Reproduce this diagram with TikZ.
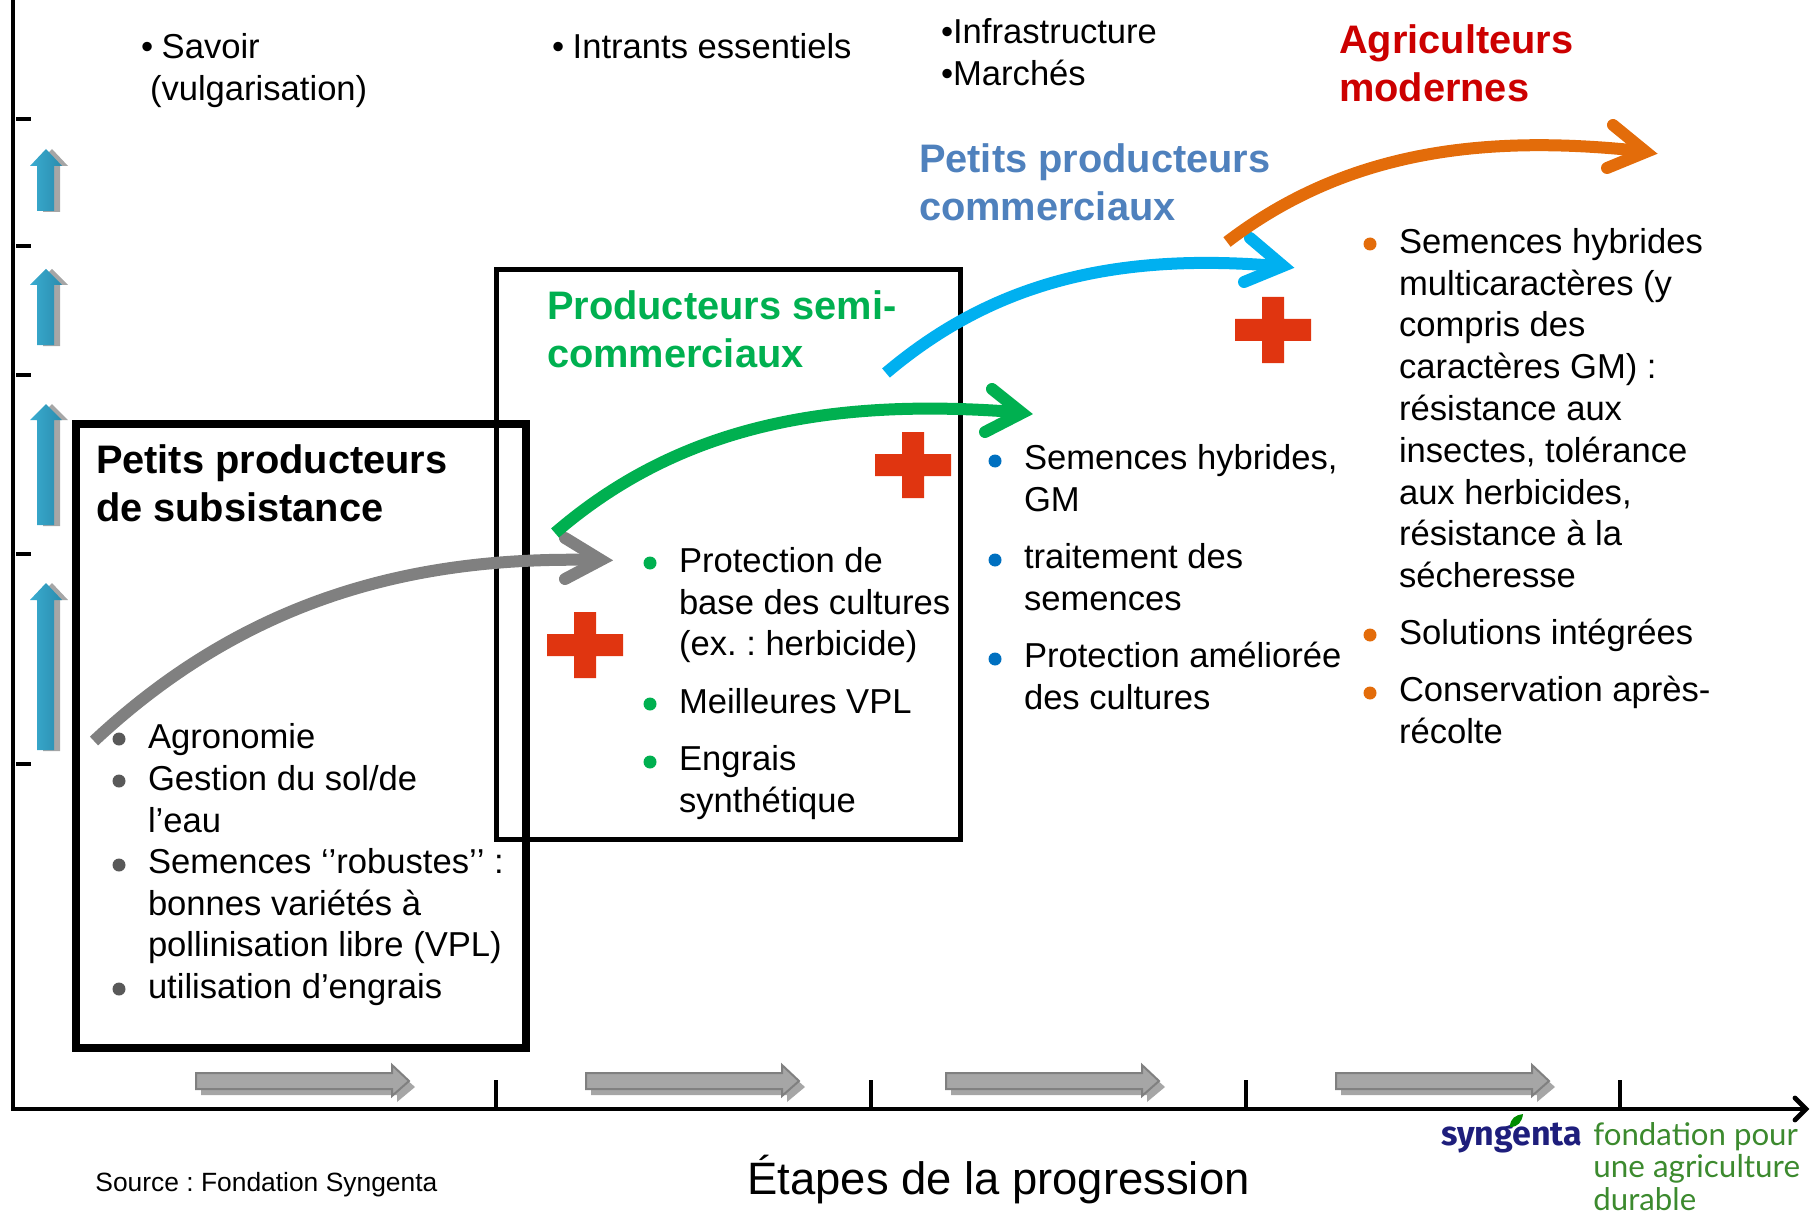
\documentclass[tikz,border=0pt]{standalone}
\usepackage{fontspec}
\setmainfont{Liberation Sans}
\newfontfamily\logofont{Fira Sans}
\newfontfamily\fondfont{Lato}
\frenchspacing
\definecolor{grayc}{HTML}{808080}
\definecolor{greenc}{HTML}{00B050}
\definecolor{bluec}{HTML}{00B0F0}
\definecolor{orangec}{HTML}{E36C0A}
\definecolor{redc}{HTML}{E03510}
\definecolor{titleblue}{HTML}{4F81BD}
\definecolor{titlered}{HTML}{CC0000}
\definecolor{dotgray}{HTML}{595959}
\definecolor{dotblue}{HTML}{0070C0}
\definecolor{shadowc}{HTML}{A6A6A6}
\definecolor{logoblue}{HTML}{1E1E7C}
\definecolor{logogreen}{HTML}{3C8A2E}
\definecolor{upleft}{HTML}{3AACD0}
\definecolor{upright}{HTML}{2A8CAE}
\tikzset{
  body/.style={anchor=north west,inner sep=0pt,outer sep=0pt,align=left,yshift=12.4pt,
    font=\fontsize{17.3}{20.9}\selectfont,execute at begin node={\strut}},
  bodyone/.style={body,yshift=1.95pt},
  head/.style={anchor=north west,inner sep=0pt,outer sep=0pt,align=left,yshift=14.2pt,
    font=\fontsize{19.9}{24.1}\selectfont\bfseries,execute at begin node={\strut}},
  dotb/.style={circle,fill=#1,draw=none,minimum size=6.5pt,inner sep=0pt},
  shaftline/.style={draw=#1,line width=6pt,line cap=butt},
  tipline/.style={draw=#1,line width=6pt,line cap=round,line join=miter,miter limit=10},
  framebox/.style={draw=black,fill=none,line join=miter,inner sep=0pt,outer sep=0pt,anchor=north west},
  axisline/.style={draw=black,line width=2.2pt},
}
\newcommand\upblue[3]{% tip y, head base y, bottom y
  \fill[shadowc] (52,#1) -- (68,#2) -- (60,#2) -- (60,#3+1) -- (43,#3+1) -- (43,#2) -- (36,#2) -- cycle;
  \shade[left color=upleft,right color=upright]
    (46,#1) -- (62,#2) -- (54,#2) -- (54,#3) -- (37,#3) -- (37,#2) -- (30,#2) -- cycle;
}
\newcommand\grayarrow[1]{% x of left end
  \begin{scope}[xshift=#1*0.5pt]
  \fill[shadowc] (5,1079) -- (201,1079) -- (201,1071) -- (219,1087) -- (201,1102) -- (201,1095) -- (5,1095) -- cycle;
  \filldraw[fill=shadowc,draw=grayc,line width=1pt] (0,1073) -- (196,1073) -- (196,1065) -- (213,1081) -- (196,1096) -- (196,1089) -- (0,1089) -- cycle;
  \end{scope}
}
\newcommand\redcross[2]{%
  \fill[redc] (#1-11,#2-33) -- (#1+11,#2-33) -- (#1+11,#2-11) -- (#1+38,#2-11) -- (#1+38,#2+11) -- (#1+11,#2+11) -- (#1+11,#2+33) -- (#1-11,#2+33) -- (#1-11,#2+11) -- (#1-38,#2+11) -- (#1-38,#2-11) -- (#1-11,#2-11) -- cycle;
}
\begin{document}
\begin{tikzpicture}[x=0.5pt,y=-0.5pt]
\useasboundingbox (0,0) rectangle (1810,1214);
\clip (0,0) rectangle (1810,1214);

% axes
\coordinate (yt) at (13,0);
\coordinate (o) at (13,1109);
\coordinate (xe) at (1806,1109);
\coordinate (xa) at (1795,1098);
\coordinate (xb) at (1795,1120);
\draw[axisline] (yt) -- (o) -- (xe);
\draw[draw=black,line width=2.4pt,line cap=round,miter limit=10] (xa) -- (xe) -- (xb);
\foreach \yy in {119,246,375,554,764} \draw[black,line width=2pt] (16,\yy) -- (31,\yy);
\foreach \xx in {496,871,1246,1620} \draw[black,line width=2pt] (\xx,1080) -- (\xx,1109);

% up arrows
\upblue{149}{166}{211}
\upblue{269}{285}{345}
\upblue{404}{420}{525}
\upblue{583}{600}{750}

% step arrows
\grayarrow{196}
\grayarrow{586}
\grayarrow{946}
\grayarrow{1336}

% boxes
\node[framebox,line width=2.5pt,minimum width=232pt,minimum height=284.5pt] (boxb) at (496,270) {};
\node[framebox,line width=4pt,minimum width=225pt,minimum height=312pt] (boxa) at (76,424) {};

% curved arrows
\coordinate (g0) at (94,741); \coordinate (g1) at (596,560);
\coordinate (gt) at (601,560); \coordinate (ga) at (565,538); \coordinate (gb) at (565,579);
\draw[shaftline=grayc] (g0) .. controls (250,595) and (420,556) .. (g1);
\draw[tipline=grayc] (ga) -- (gt) -- (gb);

\coordinate (e0) at (555,533); \coordinate (e1) at (1015,412);
\coordinate (et) at (1022,413); \coordinate (ea) at (992,389); \coordinate (eb) at (985,432);
\draw[shaftline=greenc] (e0) .. controls (680,425) and (830,398) .. (e1);
\draw[tipline=greenc] (ea) -- (et) -- (eb);

\coordinate (b0) at (886,373); \coordinate (b1) at (1277,266);
\coordinate (bt) at (1283,266); \coordinate (ba) at (1250,238); \coordinate (bb) at (1244,282);
\draw[shaftline=bluec] (b0) .. controls (990,285) and (1110,252) .. (b1);
\draw[tipline=bluec] (ba) -- (bt) -- (bb);

\coordinate (r0) at (1227,242); \coordinate (r1) at (1641,151);
\coordinate (rt) at (1646,152); \coordinate (ra) at (1613,125); \coordinate (rb) at (1607,168);
\draw[shaftline=orangec] (r0) .. controls (1350,148) and (1490,135) .. (r1);
\draw[tipline=orangec] (ra) -- (rt) -- (rb);

% crosses
\redcross{585}{645}
\redcross{913}{465}
\redcross{1273}{330}

% top labels
\node[body] (t1) at (141,58) {•\hspace{4.3pt}Savoir\\\hspace*{4.5pt}(vulgarisation)};
\node[bodyone] (t2) at (552,58) {•\hspace{4.3pt}Intrants essentiels};
\node[body] (t3) at (941,43) {•Infrastructure\\•Marchés};

% headings
\node[head,text=titlered] (h4) at (1339,53) {Agriculteurs\\modernes};
\node[head,text=titleblue] (h3) at (919,172) {Petits producteurs\\commerciaux};
\node[head,text=greenc] (h2) at (547,319) {Producteurs semi-\\commerciaux};
\node[head,text=black] (h1) at (96,473) {Petits producteurs\\de subsistance};

% gray list
\node[dotb=dotgray] (d1a) at (119,739) {};
\node[dotb=dotgray] (d1b) at (119,781) {};
\node[dotb=dotgray] (d1c) at (119,865) {};
\node[dotb=dotgray] (d1d) at (119,989) {};
\node[bodyone] (l1a) at (148,748) {Agronomie};
\node[body] (l1b) at (148,790) {Gestion du sol/de\\l’eau};
\node[body] (l1c) at (148,873) {Semences ‘\kern0pt’robustes’\kern0pt’ :\\bonnes variétés à\\pollinisation libre (VPL)};
\node[bodyone] (l1d) at (148,998) {utilisation d’engrais};

% green list
\node[dotb=greenc] (d2a) at (650,563) {};
\node[dotb=greenc] (d2b) at (650,704) {};
\node[dotb=greenc] (d2c) at (650,762) {};
\node[body] (l2a) at (679,572) {Protection de\\base des cultures\\(ex. : herbicide)};
\node[bodyone] (l2b) at (679,713) {Meilleures VPL};
\node[body] (l2c) at (679,770) {Engrais\\synthétique};

% blue list
\node[dotb=dotblue] (d3a) at (995,461) {};
\node[dotb=dotblue] (d3b) at (995,560) {};
\node[dotb=dotblue] (d3c) at (995,659) {};
\node[body] (l3a) at (1024,469) {Semences hybrides,\\GM};
\node[body] (l3b) at (1024,568) {traitement des\\semences};
\node[body] (l3c) at (1024,667) {Protection améliorée\\des cultures};

% orange list
\node[dotb=orangec] (d4a) at (1370,244) {};
\node[dotb=orangec] (d4b) at (1370,635) {};
\node[dotb=orangec] (d4c) at (1370,693) {};
\node[body] (l4a) at (1399,253) {Semences hybrides\\multicaractères (y\\compris des\\caractères GM) :\\résistance aux\\insectes, tolérance\\aux herbicides,\\résistance à la\\sécheresse};
\node[bodyone] (l4b) at (1399,644) {Solutions intégrées};
\node[body] (l4c) at (1399,701) {Conservation après-\\récolte};

% footer
\node[anchor=base west,inner sep=0pt,font=\fontsize{13.2}{15}\selectfont] (src) at (95,1191) {Source : Fondation Syngenta};
\node[anchor=base west,inner sep=0pt,font=\fontsize{22.7}{26}\selectfont] (xlab) at (747,1194) {Étapes de la progression};

% logo
\node[anchor=base west,inner sep=0pt,font=\fontsize{17}{20}\logofont\bfseries,text=logoblue] (logo) at (1441,1145) {syngenta};
\fill[green!55!black] (1510,1127) .. controls (1510,1118) and (1516,1115) .. (1523,1114) .. controls (1522,1122) and (1518,1127) .. (1510,1127) -- cycle;
\node[anchor=base west,inner sep=0pt,font=\fontsize{15.6}{17.5}\fondfont,text=logogreen] (fond) at (1593,1145) {fondation pour};
\node[anchor=base west,inner sep=0pt,font=\fontsize{15.7}{17.5}\fondfont,text=logogreen] (fonb) at (1593,1177) {une agriculture};
\node[anchor=base west,inner sep=0pt,font=\fontsize{15.6}{17.5}\fondfont,text=logogreen] (fonc) at (1593,1210) {durable};
\end{tikzpicture}
\end{document}
